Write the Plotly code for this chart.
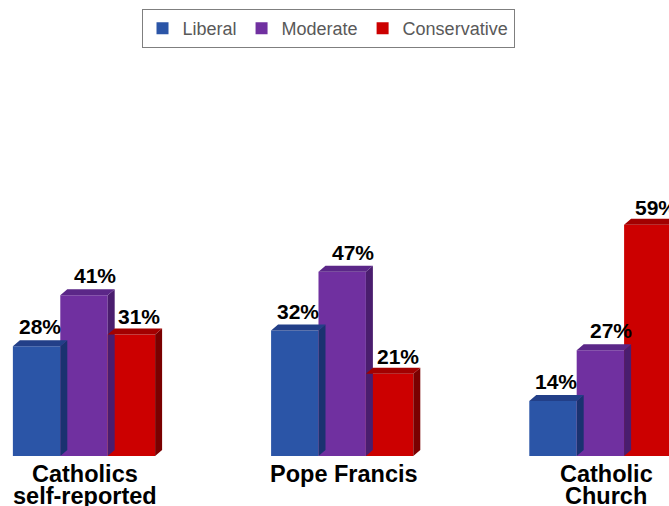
import plotly.graph_objects as go

# ---- data ----
categories = ["Catholics<br>self-reported", "Pope Francis", "Catholic<br>Church"]
series_names = ["Liberal", "Moderate", "Conservative"]
liberal = [28, 32, 14]
moderate = [41, 47, 27]
conservative = [31, 21, 59]
series_values = [liberal, moderate, conservative]

# ---- styles ----
front_colors = ["#2b55a7", "#7030a0", "#cc0000"]
top_colors = ["#223f88", "#5b2788", "#a20000"]
side_colors = ["#1a3270", "#4a1d6e", "#7a0000"]
label_xshift = [3, 11, 8]
label_yshift = [6, 6, 4]
cat_xshift = [1, 2, 6]

W = 0.1836      # bar width (x units)
DX = 0.0271     # depth offset x (x units)
DY = 1.53       # depth offset y (value units)
FONT = "Liberation Sans, Arial, Helvetica, sans-serif"

fig = go.Figure()

xpos_all = []
for k, vals in enumerate(series_values):
    xpos_all.append([i + (k - 1) * W for i in range(len(categories))])

# side faces
for k, vals in enumerate(series_values):
    xs, ys = [], []
    for x, v in zip(xpos_all[k], vals):
        R = x + W / 2
        xs += [R, R + DX, R + DX, R, R, None]
        ys += [0, DY, v + DY, v, 0, None]
    fig.add_trace(go.Scatter(x=xs, y=ys, mode="lines", fill="toself",
                             fillcolor=side_colors[k], line=dict(width=0),
                             showlegend=False, hoverinfo="skip"))
# top faces
for k, vals in enumerate(series_values):
    xs, ys = [], []
    for x, v in zip(xpos_all[k], vals):
        L, R = x - W / 2, x + W / 2
        xs += [L, L + DX, R + DX, R, L, None]
        ys += [v, v + DY, v + DY, v, v, None]
    fig.add_trace(go.Scatter(x=xs, y=ys, mode="lines", fill="toself",
                             fillcolor=top_colors[k], line=dict(width=0),
                             showlegend=False, hoverinfo="skip"))
# front faces
for k, vals in enumerate(series_values):
    fig.add_trace(go.Bar(x=xpos_all[k], y=vals, width=W, name=series_names[k],
                         marker=dict(color=front_colors[k], line=dict(width=0))))

annotations = []
for k, vals in enumerate(series_values):
    for x, v in zip(xpos_all[k], vals):
        annotations.append(dict(x=x, y=v, xref="x", yref="y", text=f"{v}%",
                                showarrow=False, yanchor="bottom",
                                xshift=label_xshift[k], yshift=label_yshift[k],
                                font=dict(family=FONT, size=21, color="#000000",
                                          weight="bold")))
for i, cat in enumerate(categories):
    for j, line in enumerate(cat.split("<br>")):
        annotations.append(dict(x=i, y=0, xref="x", yref="paper", text=line,
                                showarrow=False, yanchor="top",
                                xshift=cat_xshift[i], yshift=-3 - 22 * j,
                                font=dict(family=FONT, size=23.5, color="#000000",
                                          weight="bold")))

fig.update_layout(
    width=669, height=506,
    margin=dict(l=0, r=0, t=64, b=50),
    paper_bgcolor="white", plot_bgcolor="white",
    barmode="overlay",
    xaxis=dict(range=[-0.3253, 2.2657], visible=False),
    yaxis=dict(range=[0, 100], visible=False),
    annotations=annotations,
    showlegend=True,
    legend=dict(orientation="h", x=0.4903, xanchor="center",
                yref="container", y=1 - 9 / 506, yanchor="top",
                bordercolor="#7f7f7f", borderwidth=1, bgcolor="white",
                font=dict(family=FONT, size=18, color="#595959")),
)

fig.write_html("out.html")
